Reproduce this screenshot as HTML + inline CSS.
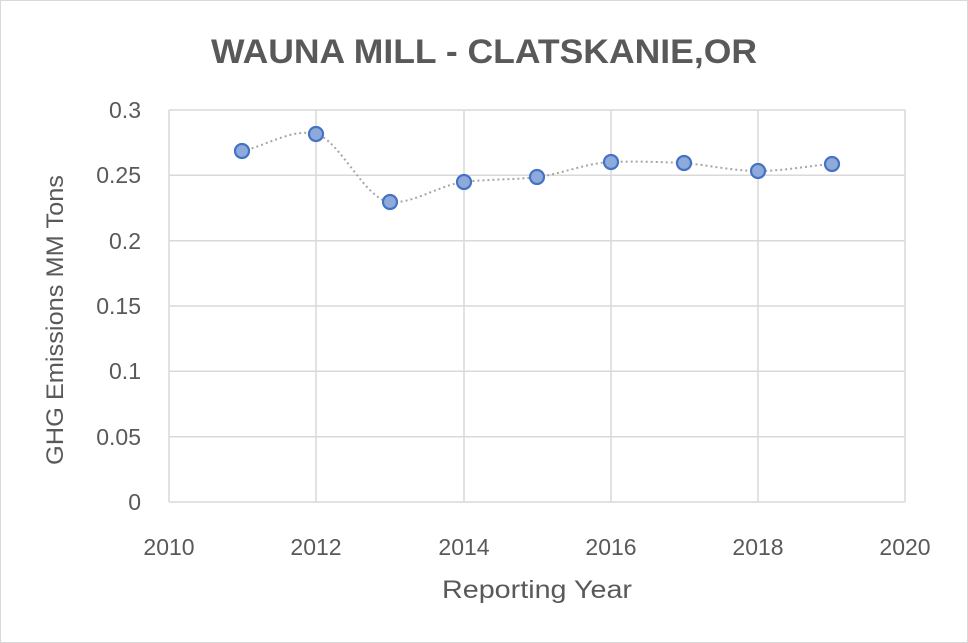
<!DOCTYPE html>
<html><head><meta charset="utf-8"><style>
body{margin:0;background:#fff}
svg{display:block}
text{font-family:"Liberation Sans",sans-serif;fill:#595959}
</style></head><body>
<svg width="968" height="643" viewBox="0 0 968 643">
<rect x="0.5" y="0.5" width="967" height="642" fill="#fff" stroke="#d9d9d9"/>
<text x="484" y="63" text-anchor="middle" font-size="34" font-weight="bold" textLength="546" lengthAdjust="spacingAndGlyphs">WAUNA MILL - CLATSKANIE,OR</text>
<g stroke="#d9d9d9" stroke-width="1.5">
<line x1="169" y1="110" x2="905" y2="110"/>
<line x1="169" y1="175.3" x2="905" y2="175.3"/>
<line x1="169" y1="240.7" x2="905" y2="240.7"/>
<line x1="169" y1="306" x2="905" y2="306"/>
<line x1="169" y1="371.3" x2="905" y2="371.3"/>
<line x1="169" y1="436.7" x2="905" y2="436.7"/>
<line x1="169" y1="502" x2="905" y2="502"/>
<line x1="169" y1="110" x2="169" y2="502"/>
<line x1="316" y1="110" x2="316" y2="502"/>
<line x1="464" y1="110" x2="464" y2="502"/>
<line x1="611" y1="110" x2="611" y2="502"/>
<line x1="758" y1="110" x2="758" y2="502"/>
<line x1="905" y1="110" x2="905" y2="502"/>
</g>
<g font-size="23" text-anchor="end">
<text x="141" y="118">0.3</text>
<text x="141" y="183">0.25</text>
<text x="141" y="249">0.2</text>
<text x="141" y="314">0.15</text>
<text x="141" y="379">0.1</text>
<text x="141" y="445">0.05</text>
<text x="141" y="510">0</text>
</g>
<g font-size="23" text-anchor="middle">
<text x="169" y="555">2010</text>
<text x="316" y="555">2012</text>
<text x="464" y="555">2014</text>
<text x="611" y="555">2016</text>
<text x="758" y="555">2018</text>
<text x="905" y="555">2020</text>
</g>
<text x="537" y="598" font-size="25" text-anchor="middle" textLength="190" lengthAdjust="spacingAndGlyphs">Reporting Year</text>
<text transform="translate(63,320) rotate(-90)" font-size="24" text-anchor="middle" textLength="290" lengthAdjust="spacingAndGlyphs">GHG Emissions MM Tons</text>
<path d="M242,151 C266,146 292,128 316,134 C340,140 365,200 390,202 C414,204 439,185 464,182 C488,179 513,180 537,177 C562,174 586,163 611,162 C635,161 660,162 684,163 C708,165 734,171 758,171 C783,171 808,166 832,164" fill="none" stroke="#a6a6a6" stroke-width="2" stroke-dasharray="2,3"/>
<g fill="#8eaadb" stroke="#4472c4" stroke-width="2.2">
<circle cx="242" cy="151" r="7"/>
<circle cx="316" cy="134" r="7"/>
<circle cx="390" cy="202" r="7"/>
<circle cx="464" cy="182" r="7"/>
<circle cx="537" cy="177" r="7"/>
<circle cx="611" cy="162" r="7"/>
<circle cx="684" cy="163" r="7"/>
<circle cx="758" cy="171" r="7"/>
<circle cx="832" cy="164" r="7"/>
</g>
</svg>
</body></html>
